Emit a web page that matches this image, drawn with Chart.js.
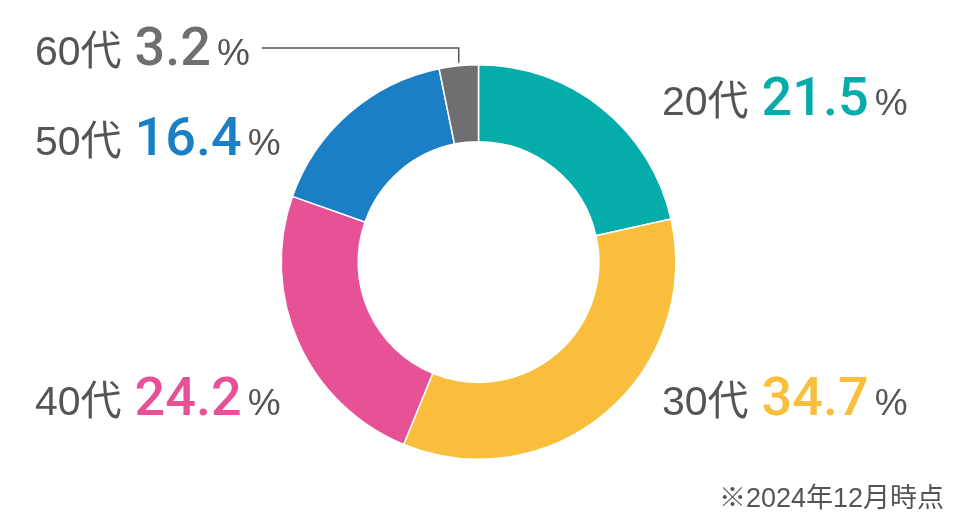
<!DOCTYPE html>
<html lang="ja">
<head>
<meta charset="UTF-8" />
<title>年代別構成比</title>
<script src="https://cdn.jsdelivr.net/npm/chart.js"></script>
<style>
    html, body { margin: 0; padding: 0; background: #fff; }
    .chart-container { position: relative; width: 957px; height: 524px; }
</style>
</head>
<body>
<div class="chart-container">
    <canvas id="ageChart"></canvas>
</div>
<script>
    // data
    const ageLabels = ["20代", "30代", "40代", "50代", "60代"];
    const ageShares = [21.5, 34.7, 24.2, 16.4, 3.2];
    const sliceColors = ["#04ADA9", "#F9BF3C", "#E75297", "#1A7FC4", "#6F6F71"];
    const footnote = "※2024年12月時点";

    const textGray = "#555555";
    const fontFamily = "'Liberation Sans', Arial, 'Noto Sans CJK JP', sans-serif";
    const numFamily = "Roboto, 'Liberation Sans', sans-serif";

    // where each label's text starts (left x, baseline y)
    const labelSpots = [
        { x: 662, y: 115 },
        { x: 662, y: 415 },
        { x: 35, y: 415 },
        { x: 35, y: 155 },
        { x: 35, y: 65 }
    ];

    const labelPlugin = {
        id: "ageLabels",
        afterDraw(chart) {
            const ctx = chart.ctx;
            const arcs = chart.getDatasetMeta(0).data;
            ctx.save();
            ctx.textBaseline = "alphabetic";
            ctx.textAlign = "left";

            ageLabels.forEach((lab, i) => {
                const p = labelSpots[i];
                let x = p.x;
                ctx.font = "41px " + fontFamily;
                ctx.fillStyle = textGray;
                ctx.fillText(lab, x, p.y);
                x += ctx.measureText(lab).width + 13;

                const num = ageShares[i].toFixed(1);
                ctx.font = "500 54px " + numFamily;
                ctx.fillStyle = sliceColors[i];
                ctx.fillText(num, x, p.y);
                x += ctx.measureText(num).width + 6;

                ctx.font = "37px " + fontFamily;
                ctx.fillStyle = textGray;
                ctx.fillText("%", x, p.y);

                // leader line for the small 60代 slice
                if (i === ageLabels.length - 1) {
                    const a = arcs[i];
                    const mid = (a.startAngle + a.endAngle) / 2;
                    const lx = a.x + Math.cos(mid) * a.outerRadius;
                    const ly = a.y + Math.sin(mid) * a.outerRadius;
                    ctx.strokeStyle = "#555";
                    ctx.lineWidth = 1.5;
                    ctx.beginPath();
                    ctx.moveTo(x + ctx.measureText("%").width + 12, 48);
                    ctx.lineTo(lx, 48);
                    ctx.lineTo(lx, ly - 3);
                    ctx.stroke();
                }
            });

            ctx.font = "27px " + fontFamily;
            ctx.fillStyle = textGray;
            ctx.textAlign = "right";
            ctx.fillText(footnote, 944, 507);
            ctx.restore();
        }
    };

    window.onload = function () {
        const ctx = document.getElementById("ageChart").getContext("2d");
        new Chart(ctx, {
            type: "doughnut",
            data: {
                labels: ageLabels,
                datasets: [{
                    data: ageShares,
                    backgroundColor: sliceColors,
                    borderColor: "#ffffff",
                    borderWidth: 1.5
                }]
            },
            options: {
                responsive: true,
                maintainAspectRatio: false,
                animation: false,
                cutout: "61%",
                layout: { padding: { top: 64, bottom: 64 } },
                plugins: {
                    legend: { display: false },
                    tooltip: { enabled: false }
                }
            },
            plugins: [labelPlugin]
        });
    };
</script>
</body>
</html>
